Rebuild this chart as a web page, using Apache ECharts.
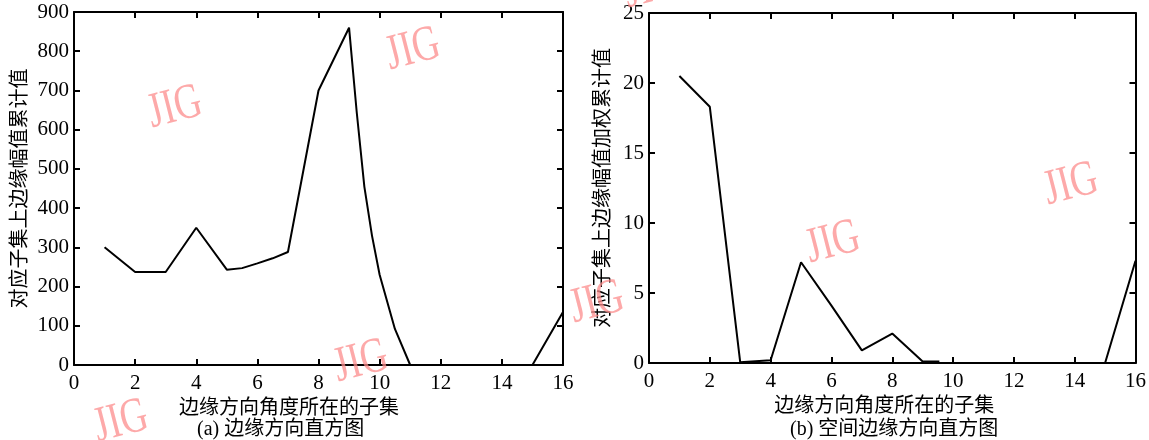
<!DOCTYPE html>
<html><head><meta charset="utf-8">
<script src="https://cdn.jsdelivr.net/npm/echarts@6/dist/echarts.min.js"></script>
<style>html,body{margin:0;padding:0;background:#fff}#c{width:1149px;height:440px}</style>
</head><body><div id="c"></div>
<script>
// ---- data ----
const subsetsA = [1, 2, 3, 4, 5, 5.5, 6, 6.5, 7, 8, 9, 9.25, 9.5, 9.75, 10, 10.5, 11, 12, 13, 14, 15, 16];
const valuesA  = [300, 237, 237, 350, 243, 247, 259, 272, 288, 700, 860, 645, 455, 330, 230, 92, 0, 0, 0, 0, 0, 135];
const subsetsB = [1, 2, 3, 4, 5, 6, 7, 8, 9, 9.55, 12, 15, 16];
const valuesB  = [20.5, 18.3, 0.05, 0.2, 7.2, 4.1, 0.9, 2.1, 0.1, 0.1, '-', 0, 7.3];
const xTicks   = [0, 2, 4, 6, 8, 10, 12, 14, 16];
const yTicksA  = [0, 100, 200, 300, 400, 500, 600, 700, 800, 900];
const yTicksB  = [0, 5, 10, 15, 20, 25];
const xName    = '边缘方向角度所在的子集';
const yNameA   = '对应子集上边缘幅值累计值';
const yNameB   = '对应子集上边缘幅值加权累计值';
const captionA = '(a) 边缘方向直方图';
const captionB = '(b) 空间边缘方向直方图';
const watermark = 'JIG';

const serif = "'Liberation Serif', 'Noto Sans CJK SC', serif";
const lineStyle = { color: '#000', width: 2 };
const tickStyle = { show: true, inside: true, length: 6, lineStyle: { color: '#000', width: 2 } };
const labelStyle = { color: '#000', fontFamily: serif, fontSize: 21 };
const nameStyle = { color: '#000', fontFamily: serif, fontSize: 20 };

function rng(t) { return { min: t[0], max: t[t.length - 1], interval: t[1] - t[0] }; }

function xAx(grid, pos, show, extra) {
  return Object.assign({ type: 'value', gridIndex: grid, position: pos }, rng(xTicks), {
    axisLine: { show: true, onZero: false, lineStyle },
    axisTick: tickStyle, splitLine: { show: false },
    axisLabel: Object.assign({ show, margin: 8 }, labelStyle)
  }, extra || {});
}
function yAx(grid, pos, ticks, show, extra) {
  return Object.assign({ type: 'value', gridIndex: grid, position: pos }, rng(ticks), {
    axisLine: { show: true, onZero: false, lineStyle },
    axisTick: tickStyle, splitLine: { show: false },
    axisLabel: Object.assign({ show, margin: 5 }, labelStyle)
  }, extra || {});
}

const wm = [
  [175, 108], [413, 50], [361, 362], [121, 422], [597, 303], [833, 243], [1071, 185], [651, -12]
].map(p => ({
  type: 'text', x: p[0], y: p[1], rotation: 0.25, scaleX: 0.75, z: 100,
  style: { text: watermark, fill: 'rgba(252,140,140,0.75)', font: "50px 'Liberation Serif'", align: 'center', verticalAlign: 'middle' }
}));

const chart = echarts.init(document.getElementById('c'), null, { renderer: 'canvas' });
chart.setOption({
  backgroundColor: '#fff',
  animation: false,
  title: [
    { text: captionA, left: 197, top: 420, padding: 0, textStyle: Object.assign({ fontWeight: 'normal' }, nameStyle) },
    { text: captionB, left: 790, top: 420, padding: 0, textStyle: Object.assign({ fontWeight: 'normal' }, nameStyle) }
  ],
  grid: [
    { left: 74, top: 12, width: 489, height: 353 },
    { left: 649, top: 13, width: 496, height: 350 }
  ],
  xAxis: [
    xAx(0, 'bottom', true, { name: xName, nameLocation: 'middle', nameGap: 18, nameTextStyle: Object.assign({ padding: [0, 59, 0, 0] }, nameStyle) }),
    xAx(0, 'top', false),
    xAx(1, 'bottom', true, { name: xName, nameLocation: 'middle', nameGap: 20, nameTextStyle: Object.assign({ padding: [0, 16, 0, 0] }, nameStyle) }),
    xAx(1, 'top', false)
  ],
  yAxis: [
    yAx(0, 'left', yTicksA, true, { name: yNameA, nameLocation: 'middle', nameGap: 43, nameTextStyle: nameStyle }),
    yAx(0, 'right', yTicksA, false),
    yAx(1, 'left', yTicksB, true, { name: yNameB, nameLocation: 'middle', nameGap: 35, nameTextStyle: nameStyle }),
    yAx(1, 'right', yTicksB, false)
  ],
  series: [
    { type: 'line', xAxisIndex: 0, yAxisIndex: 0, symbol: 'none', lineStyle,
      data: subsetsA.map((x, i) => [x, valuesA[i]]) },
    { type: 'line', xAxisIndex: 2, yAxisIndex: 2, symbol: 'none', lineStyle, connectNulls: false,
      data: subsetsB.map((x, i) => [x, valuesB[i]]) }
  ],
  graphic: wm
});
</script>
</body></html>
